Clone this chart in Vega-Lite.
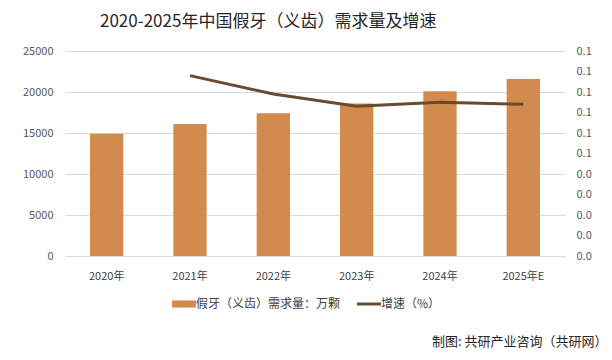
{
  "$schema": "https://vega.github.io/schema/vega-lite/v6.json",
  "width": 500,
  "height": 205,
  "autosize": {"type": "none"},
  "padding": {"left": 65, "top": 51, "right": 47, "bottom": 104},
  "background": "white",
  "title": {
    "text": "2020-2025年中国假牙（义齿）需求量及增速",
    "anchor": "start",
    "frame": "group",
    "dx": 35,
    "offset": 14,
    "font": "Noto Sans CJK SC",
    "fontSize": 17,
    "fontWeight": "normal",
    "color": "#262626"
  },
  "config": {
    "view": {"stroke": null},
    "font": "Noto Sans CJK SC",
    "axis": {"labelFont": "Noto Sans CJK SC", "titleFont": "Noto Sans CJK SC"}
  },
  "data": {
    "values": [
      {"year": "2020年", "demand": 14900, "growth": null},
      {"year": "2021年", "demand": 16100, "growth": 0.088},
      {"year": "2022年", "demand": 17400, "growth": 0.079},
      {"year": "2023年", "demand": 18600, "growth": 0.073},
      {"year": "2024年", "demand": 20100, "growth": 0.075},
      {"year": "2025年E", "demand": 21600, "growth": 0.074}
    ]
  },
  "encoding": {
    "x": {
      "field": "year",
      "type": "nominal",
      "sort": null,
      "scale": {"paddingInner": 0.6, "paddingOuter": 0.3},
      "axis": {
        "title": "制图: 共研产业咨询（共研网）",
        "titleX": 542,
        "titleY": 85,
        "titleAlign": "right",
        "titleBaseline": "middle",
        "titleFontSize": 13,
        "titleFontWeight": "normal",
        "titleColor": "#262626",
        "labelAngle": 0,
        "labelFontSize": 11,
        "labelColor": "#404040",
        "labelPadding": 14,
        "ticks": false,
        "domainColor": "#d9d9d9",
        "domainWidth": 1
      }
    }
  },
  "layer": [
    {
      "mark": {"type": "bar", "color": "#D28B4D"},
      "encoding": {
        "y": {
          "field": "demand",
          "type": "quantitative",
          "scale": {"domain": [0, 25000]},
          "axis": {
            "title": null,
            "values": [0, 5000, 10000, 15000, 20000, 25000],
            "format": "d",
            "labelFontSize": 11,
            "labelColor": "#595959",
            "labelPadding": 12,
            "ticks": false,
            "domain": false,
            "gridColor": "#d9d9d9",
            "gridWidth": 1
          }
        },
        "color": {
          "datum": "假牙（义齿）需求量：万颗",
          "scale": {
            "domain": ["假牙（义齿）需求量：万颗", "增速（%）"],
            "range": ["#D28B4D", "#6B4A2F"]
          },
          "legend": {
            "title": null,
            "orient": "none",
            "legendX": 113,
            "legendY": 247,
            "direction": "horizontal",
            "columnPadding": 10,
            "labelOffset": 6,
            "labelFontSize": 12,
            "labelColor": "#404040",
            "labelFont": "Noto Sans CJK SC",
            "symbolSize": 576,
            "encode": {
              "symbols": {
                "update": {
                  "shape": {"signal": "datum.value === '增速（%）' ? 'M-1,0H1' : 'M-1,-0.3H1V0.3H-1Z'"},
                  "size": {"value": 576},
                  "strokeWidth": {"signal": "datum.value === '增速（%）' ? 3 : 0"},
                  "fill": {"signal": "datum.value === '增速（%）' ? 'transparent' : '#D28B4D'"},
                  "stroke": {"signal": "datum.value === '增速（%）' ? '#6B4A2F' : 'transparent'"},
                  "opacity": {"value": 1}
                }
              }
            }
          }
        }
      }
    },
    {
      "transform": [{"filter": "datum.growth != null"}],
      "mark": {"type": "line", "color": "#6B4A2F", "strokeWidth": 3},
      "encoding": {
        "y": {
          "field": "growth",
          "type": "quantitative",
          "scale": {"domain": [0, 0.1]},
          "axis": {
            "orient": "right",
            "title": null,
            "values": [0, 0.01, 0.02, 0.03, 0.04, 0.05, 0.06, 0.07, 0.08, 0.09, 0.1],
            "format": ".1f",
            "labelFontSize": 11,
            "labelColor": "#595959",
            "labelPadding": 11,
            "ticks": false,
            "domain": false,
            "grid": false
          }
        },
        "color": {"datum": "增速（%）"}
      }
    }
  ],
  "resolve": {"scale": {"y": "independent"}}
}
